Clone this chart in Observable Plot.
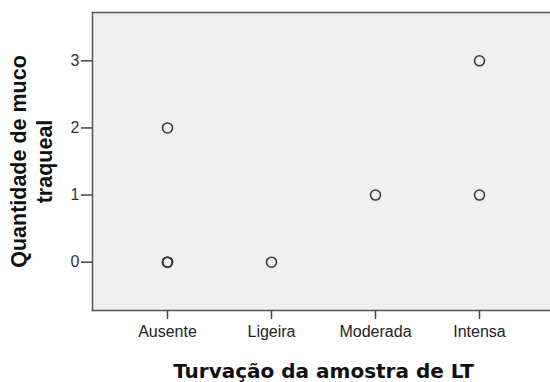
<!DOCTYPE html>
<html>
<head>
<meta charset="utf-8">
<script src="https://cdn.jsdelivr.net/npm/d3@7"></script>
<script src="https://cdn.jsdelivr.net/npm/@observablehq/plot@0.6"></script>
<style>
  html, body { margin: 0; padding: 0; background: #fff; overflow: hidden; width: 550px; height: 382px; }
  #chart { position: absolute; left: 0; top: 0; width: 550px; height: 382px; overflow: hidden; }
</style>
</head>
<body>
<div id="chart"></div>
<script>
// Categories on the x axis
const categories = ["Ausente", "Ligeira", "Moderada", "Intensa"];
// Observations (x category, y value); Ausente 0 appears several times (overlapping)
const obsCategory = ["Ausente", "Ausente", "Ausente", "Ausente", "Ligeira", "Moderada", "Intensa", "Intensa"];
const obsValue    = [0, 0, 0, 2, 0, 1, 1, 3];
const yTicks = [0, 1, 2, 3];
const xTitle = "Turvação da amostra de LT";
const yTitle = "Quantidade de muco\ntraqueal";

const data = obsCategory.map((c, i) => ({cat: c, val: obsValue[i]}));

const chart = Plot.plot({
  width: 560,
  height: 382,
  marginLeft: 92,
  marginRight: 6,
  marginTop: 12,
  marginBottom: 72,
  style: {background: "#fff", color: "#222", fontFamily: "'Liberation Sans', Arial, sans-serif"},
  x: {type: "point", domain: categories, padding: 0.72, label: null},
  y: {domain: [-0.72, 3.72], label: null},
  marks: [
    Plot.frame({fill: "#f0f0f0", stroke: "none"}),
    Plot.frame({anchor: "top", stroke: "#555", strokeWidth: 1.5}),
    Plot.frame({anchor: "bottom", stroke: "#555", strokeWidth: 1.5}),
    Plot.frame({anchor: "left", stroke: "#555", strokeWidth: 1.5}),
    Plot.axisY(yTicks, {tickSize: 11, tickPadding: 2, fontSize: 16, tickFormat: "d", stroke: "#444", strokeWidth: 1.5, fill: "#333", label: null}),
    Plot.axisX({tickSize: 9, tickPadding: 6, fontSize: 16, stroke: "#444", strokeWidth: 1.5, fill: "#222", label: null}),
    Plot.dot(data, {x: "cat", y: "val", r: 5, stroke: "#3a3a3a", strokeWidth: 1.6, fill: "none"}),
    Plot.text([xTitle], {frameAnchor: "bottom", dy: 67, lineAnchor: "bottom", fontSize: 20, fontWeight: "bold", fontFamily: "'DejaVu Sans', sans-serif", fill: "#111"}),
    Plot.text([yTitle], {frameAnchor: "left", dx: -62, rotate: -90, lineAnchor: "middle", textAnchor: "middle", fontSize: 21.5, lineHeight: 1.2, fontWeight: "bold", fill: "#111"})
  ]
});
chart.style.maxWidth = "none";
chart.style.width = "560px";
chart.style.height = "382px";
document.getElementById("chart").appendChild(chart);
</script>
</body>
</html>
